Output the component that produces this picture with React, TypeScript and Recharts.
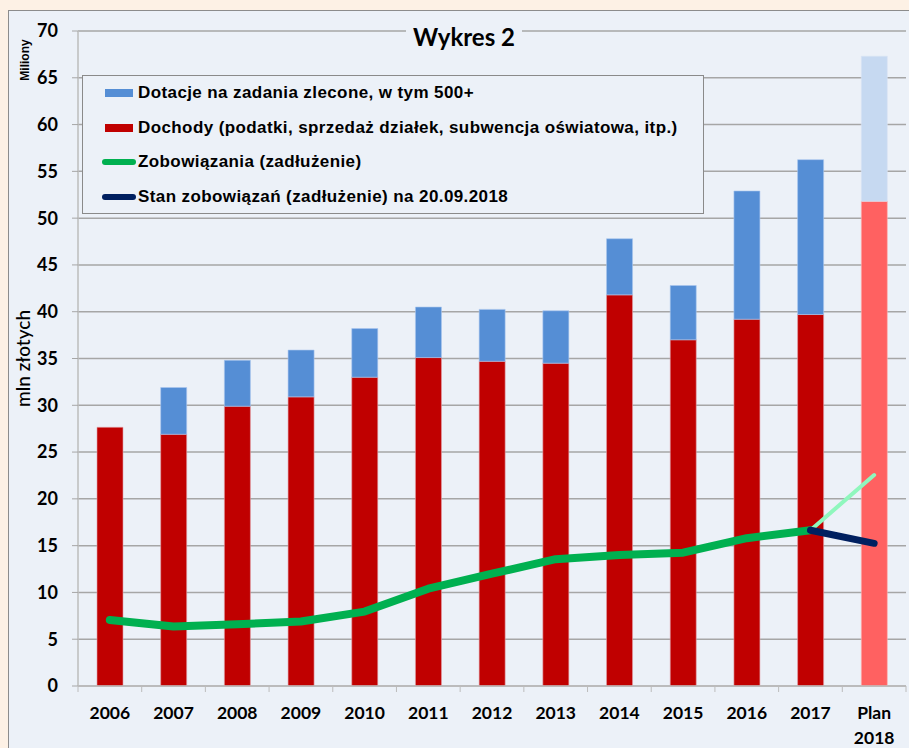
import {
  Bar,
  CartesianGrid,
  Cell,
  ComposedChart,
  Legend,
  Line,
  XAxis,
  YAxis,
} from "recharts";

const years = ["2006", "2007", "2008", "2009", "2010", "2011", "2012", "2013", "2014", "2015", "2016", "2017", "Plan 2018"];
const dochody = [27.65, 26.9, 29.9, 30.9, 33.0, 35.1, 34.7, 34.5, 41.8, 37.0, 39.2, 39.7, 51.8];
const dotacje = [0, 5.0, 4.9, 5.0, 5.2, 5.4, 5.55, 5.6, 6.0, 5.8, 13.7, 16.55, 15.5];
const zobowiazania = [7.05, 6.35, 6.6, 6.9, 7.95, 10.4, 12.0, 13.55, 14.0, 14.25, 15.8, 16.65, null];
const zobowiazaniaPlan = [null, null, null, null, null, null, null, null, null, null, null, 16.65, 22.55];
const stanZobowiazan = [null, null, null, null, null, null, null, null, null, null, null, 16.65, 15.25];
const yTicks = [0, 5, 10, 15, 20, 25, 30, 35, 40, 45, 50, 55, 60, 65, 70];

const legendItems = [
  { label: "Dotacje na zadania zlecone, w tym 500+", color: "#558ed5", kind: "bar" },
  { label: "Dochody (podatki, sprzedaż działek, subwencja oświatowa, itp.)", color: "#c00000", kind: "bar" },
  { label: "Zobowiązania (zadłużenie)", color: "#00b050", kind: "line" },
  { label: "Stan zobowiązań (zadłużenie) na 20.09.2018", color: "#002060", kind: "line" },
];

const data = years.map((year, i) => ({
  year,
  dochody: dochody[i],
  dotacje: dotacje[i],
  zob: zobowiazania[i],
  zobPlan: zobowiazaniaPlan[i],
  stan: stanZobowiazan[i],
}));

const W = 909;
const H = 748;
const PLOT_LEFT = 78;
const PLOT_RIGHT = 3;
const panelBg = "#ecf1f8";
const gridColor = "#a6a6a6";
const band = (W - PLOT_LEFT - PLOT_RIGHT) / years.length;

const XTick = ({ x, y, payload, index }: any) => {
  const lines = String(payload.value).split(" ");
  const isLast = index === years.length - 1;
  return (
    <g>
      <line x1={x - band / 2} x2={x - band / 2} y1={686} y2={692} stroke="#bcbcbc" />
      {isLast && <line x1={x + band / 2} x2={x + band / 2} y1={686} y2={692} stroke="#bcbcbc" />}
      <text
        x={x}
        y={y + 25}
        textAnchor="middle"
        fontFamily="Lato"
        fontWeight={700}
        fontSize={17.5}
        fill="#000"
      >
        {lines.map((l, k) => (
          <tspan key={k} x={x} dy={k === 0 ? 0 : 25}>
            {l}
          </tspan>
        ))}
      </text>
    </g>
  );
};

const LegendBox = () => (
  <div
    style={{
      width: 622,
      height: 139,
      border: "1.5px solid #8a8a8a",
      background: panelBg,
      boxSizing: "border-box",
      paddingTop: 0,
      fontFamily: "Liberation Sans",
      fontWeight: 700,
      fontSize: 17,
      letterSpacing: 0.4,
      color: "#000",
    }}
  >
    {legendItems.map((it) => (
      <div key={it.label} style={{ display: "flex", alignItems: "center", height: 34.5 }}>
        {it.kind === "bar" ? (
          <span style={{ display: "inline-block", width: 28, height: 8, background: it.color, marginLeft: 22, marginRight: 5 }} />
        ) : (
          <span style={{ display: "inline-block", width: 34, height: 6, borderRadius: 3, background: it.color, marginLeft: 19, marginRight: 2 }} />
        )}
        <span>{it.label}</span>
      </div>
    ))}
  </div>
);

export default function App() {
  return (
    <div style={{ position: "absolute", left: 0, top: 0, width: W, height: H, background: "#fdf1e5", overflow: "hidden" }}>
      <div
        style={{
          position: "absolute",
          left: 8,
          top: 9.5,
          width: W,
          height: H,
          background: panelBg,
          borderLeft: "1.5px solid #8c8c8c",
          borderTop: "1.5px solid #8c8c8c",
        }}
      />
      <div style={{ position: "absolute", left: 0, top: 0 }}>
        <ComposedChart
          width={W}
          height={H}
          data={data}
          margin={{ top: 31, right: PLOT_RIGHT, bottom: 0, left: 18 }}
          barGap={0}
        >
          <CartesianGrid horizontal vertical={false} stroke={gridColor} strokeWidth={1.5} />
          <XAxis
            dataKey="year"
            height={62}
            interval={0}
            tickLine={false}
            axisLine={{ stroke: "#bcbcbc", strokeWidth: 1.5 }}
            tick={<XTick />}
          />
          <YAxis
            width={60}
            domain={[0, 70]}
            ticks={yTicks}
            interval={0}
            tickSize={6}
            tickMargin={14}
            axisLine={{ stroke: "#bcbcbc", strokeWidth: 1.5 }}
            tickLine={{ stroke: gridColor }}
            tick={{ fontFamily: "Lato", fontWeight: 700, fontSize: 18, fill: "#000" }}
            label={{
              value: "mln złotych",
              angle: -90,
              position: "insideLeft",
              offset: 5,
              style: { textAnchor: "middle", fontFamily: "Lato", fontWeight: 500, fontSize: 19, fill: "#000" },
            }}
          />
          <Legend
            layout="vertical"
            align="center"
            verticalAlign="middle"
            content={<LegendBox />}
            wrapperStyle={{ left: 82, top: 75, width: 622, height: 139 }}
          />
          <Bar dataKey="dochody" stackId="a" barSize={26} fill="#c00000" isAnimationActive={false}>
            {data.map((d, i) => (
              <Cell
                key={i}
                fill={i === years.length - 1 ? "#ff6161" : "#c00000"}
                stroke={i === years.length - 1 ? "#ffb0b0" : "#e0a0a8"}
                strokeWidth={0.6}
              />
            ))}
          </Bar>
          <Bar dataKey="dotacje" stackId="a" barSize={26} fill="#558ed5" isAnimationActive={false}>
            {data.map((d, i) => (
              <Cell
                key={i}
                fill={i === years.length - 1 ? "#c6d9f1" : "#558ed5"}
                stroke={i === years.length - 1 ? "#d8e4f4" : "#a9c6ee"}
                strokeWidth={0.6}
              />
            ))}
          </Bar>
          <Line dataKey="zob" stroke="#00b050" strokeWidth={8} strokeLinecap="round" strokeLinejoin="round" dot={false} activeDot={false} isAnimationActive={false} />
          <Line dataKey="zobPlan" stroke="#8ff7bd" strokeWidth={4} strokeLinecap="round" dot={false} activeDot={false} isAnimationActive={false} />
          <Line dataKey="stan" stroke="#002060" strokeWidth={7} strokeLinecap="round" strokeLinejoin="round" dot={false} activeDot={false} isAnimationActive={false} />
        </ComposedChart>
      </div>
      <div
        style={{
          position: "absolute",
          left: 406,
          top: 22,
          width: 116,
          height: 30,
          background: panelBg,
          textAlign: "center",
          fontFamily: "Lato",
          fontWeight: 700,
          fontSize: 24,
          lineHeight: "30px",
          color: "#000",
        }}
      >
        Wykres 2
      </div>
      <div
        style={{
          position: "absolute",
          left: 25,
          top: 60,
          transform: "translate(-50%, -50%) rotate(-90deg)",
          fontFamily: "Liberation Sans",
          fontWeight: 700,
          fontSize: 12,
          color: "#000",
          whiteSpace: "nowrap",
        }}
      >
        Miliony
      </div>
    </div>
  );
}
